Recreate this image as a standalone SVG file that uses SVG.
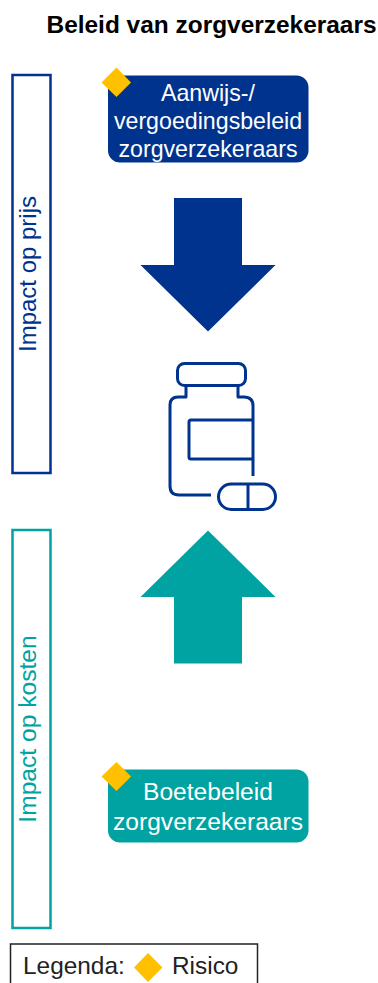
<svg xmlns="http://www.w3.org/2000/svg" width="378" height="983" viewBox="0 0 378 983">
<style>
text{font-family:"Liberation Sans",Arial,sans-serif}
.w{fill:#fff;font-size:23.200px;text-anchor:middle}
.w2{fill:#fff;font-size:24.600px;text-anchor:middle}
.d{fill:#FFC000}
.b{fill:#00338D}
.t{fill:#00A3A1}
.ic{fill:none;stroke:#00338D;stroke-width:3;stroke-linecap:butt;stroke-linejoin:round}
</style>
<rect width="378" height="983" fill="#fff"/>
<g id="title"><text x="211.500" y="33" font-size="24.500" font-weight="700" text-anchor="middle" fill="#000" textLength="330" lengthAdjust="spacingAndGlyphs">Beleid van zorgverzekeraars</text></g>
<g id="impact-prijs">
<rect x="12.500" y="75" width="38" height="398" fill="#fff" stroke="#00338D" stroke-width="2.500"/>
<text transform="translate(36,274) rotate(-90)" font-size="24" text-anchor="middle" fill="#00338D">Impact op prijs</text>
</g>
<g id="impact-kosten">
<rect x="12.500" y="530" width="38" height="398" fill="#fff" stroke="#00A3A1" stroke-width="2.500"/>
<text transform="translate(36,729) rotate(-90)" font-size="24.600" text-anchor="middle" fill="#00A3A1">Impact op kosten</text>
</g>
<g id="aanwijs">
<rect x="108" y="75.500" width="200.500" height="87" rx="12" class="b"/>
<text class="w" x="208" y="101">Aanwijs-/</text>
<text class="w" x="208" y="129">vergoedingsbeleid</text>
<text class="w" x="208" y="157">zorgverzekeraars</text>
<polygon class="d" points="116.500,67.500 131,82.500 116.500,97 101.500,82.500"/>
</g>
<g id="boete">
<rect x="108" y="769.500" width="200.500" height="73" rx="12" class="t"/>
<text class="w2" x="208" y="800">Boetebeleid</text>
<text class="w2" x="208" y="830">zorgverzekeraars</text>
<polygon class="d" points="116.500,762 131,776.500 116.500,791 101.500,776.500"/>
</g>
<g id="connectors">
<polygon class="b" points="174,198 242,198 242,265 275.500,265 208,331.500 140.500,265 174,265"/>
<polygon class="t" points="208,530.500 275.500,597 242,597 242,663.500 174,663.500 174,597 140.500,597"/>
</g>
<g id="medicine">
<rect x="177.500" y="363.500" width="68" height="22" rx="7" class="ic"/>
<path class="ic" d="M186,385V397H178Q170,397 170,405V486Q170,495 179,495H211M238,385V397H244Q253,397 253,406V476"/>
<path class="ic" d="M253,420H191Q189,420 189,422V457Q189,459 191,459H253"/>
<rect x="218.500" y="484" width="57" height="25.500" rx="12.750" class="ic"/>
<path class="ic" d="M248,484V509.500"/>
</g>
<g id="legenda">
<rect x="10.500" y="944" width="247" height="50" fill="#fff" stroke="#222" stroke-width="1.500"/>
<text x="23" y="974" font-size="24.400" fill="#222">Legenda:</text>
<polygon class="d" points="148,953 162.500,967.500 148,982 134,967.500"/>
<text x="172" y="974" font-size="24.400" fill="#222">Risico</text>
</g>
</svg>
